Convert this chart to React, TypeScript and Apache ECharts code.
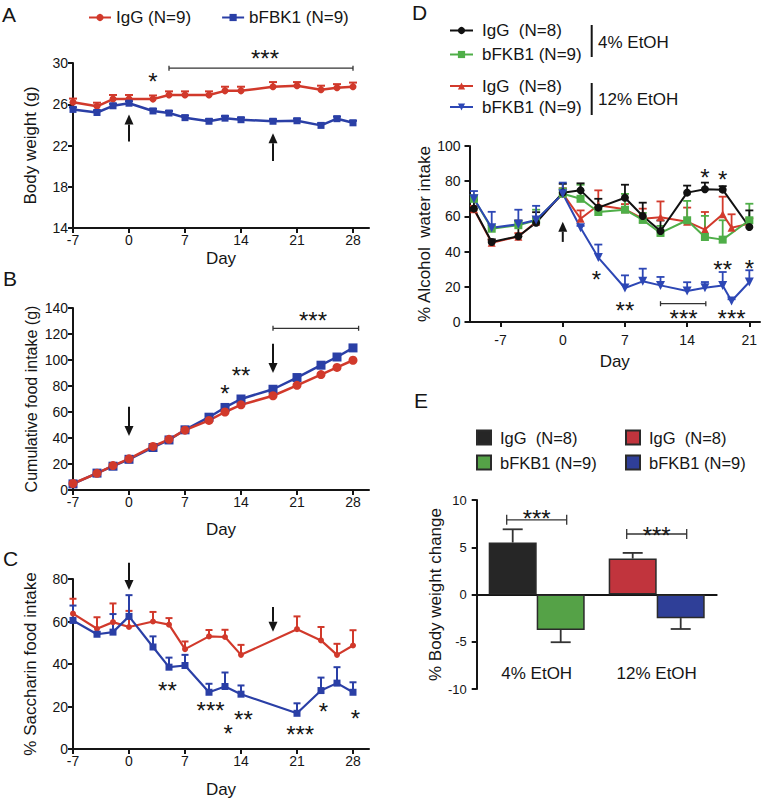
import React, { useEffect, useRef } from "react";
import * as echarts from "echarts";

const FONT = '"Liberation Sans", Arial, Helvetica, sans-serif';
const INK = "#151515";

// ---------- colours ----------
const RED = "#d1392b";
const BLUE = "#2a3fa6";
const D_BLACK = "#111111";
const D_GREEN = "#4fae48";
const D_RED = "#d23a2c";
const D_BLUE = "#2d47b5";
const E_BLACK = "#262626";
const E_GREEN = "#55a247";
const E_RED = "#c1343d";
const E_BLUE = "#2f3f98";

// ---------- series names ----------
const NAME_IGG = "IgG (N=9)";
const NAME_FBK = "bFBK1 (N=9)";

// ---------- Panel A: body weight ----------
const daysA = [-7, -4, -2, 0, 3, 5, 7, 10, 12, 14, 18, 21, 24, 26, 28];
const weightIgG = [26.2, 25.8, 26.5, 26.5, 26.5, 26.9, 26.9, 26.9, 27.3, 27.3, 27.7, 27.8, 27.4, 27.6, 27.7];
const weightIgGErr = [0.35, 0.35, 0.4, 0.4, 0.35, 0.35, 0.35, 0.35, 0.4, 0.4, 0.45, 0.35, 0.4, 0.35, 0.4];
const weightFBK = [25.5, 25.2, 25.85, 26.1, 25.35, 25.15, 24.7, 24.35, 24.65, 24.5, 24.35, 24.4, 23.95, 24.6, 24.2];
const weightFBKErr = [0.2, 0.2, 0.2, 0.2, 0.2, 0.2, 0.2, 0.2, 0.2, 0.2, 0.2, 0.2, 0.2, 0.2, 0.2];
const weightTicks = [14, 18, 22, 26, 30];
const arrowsA = [[0, 22.4, 25.0], [18, 20.5, 23.2]]; // [day, tail, tip]
const starsA: [number, number, string][] = [[3, 28.8, "*"], [17, 31.0, "***"]];
const bracketsA = [[5, 28, 29.5]];

// ---------- Panel B: cumulative food intake ----------
const daysB = [-7, -4, -2, 0, 3, 5, 7, 10, 12, 14, 18, 21, 24, 26, 28];
const foodIgG = [5, 12.8, 18.8, 24, 33.5, 39, 46, 53.5, 60, 65.5, 72.5, 80.5, 88.8, 94.3, 99.8];
const foodFBK = [4.7, 13, 18.3, 23.6, 32.7, 38.5, 46.3, 56, 63.5, 70, 77.5, 86.5, 96, 102.3, 109.3];
const foodTicks = [0, 20, 40, 60, 80, 100, 120, 140];
const arrowsB = [[0, 64, 41.5], [18, 112.5, 90]];
const starsB: [number, number, string][] = [[12, 78.5, "*"], [14, 92.8, "**"], [23, 135, "***"]];
const bracketsB = [[18, 28.7, 124.4]];

// ---------- Panel C: saccharin intake ----------
const daysC = [-7, -4, -2, 0, 3, 5, 7, 10, 12, 14, 21, 24, 26, 28];
const sacchIgG = [63.7, 56.6, 59.7, 57.4, 60, 58.5, 47, 53, 52.7, 44.3, 56.4, 51.1, 44.3, 48.7];
const sacchIgGErr = [7, 5.4, 8.8, 7.6, 4.5, 3.1, 3.6, 3, 3.4, 4.7, 6, 6.3, 5.2, 7.2];
const sacchFBK = [60.5, 54, 55, 62.4, 48, 38.5, 39.3, 26.7, 29.4, 25.8, 16.8, 27.5, 31, 26.7];
const sacchFBKErr = [7, 1, 8.5, 10, 5, 4.5, 5, 4, 6.6, 4.1, 4.7, 6.1, 7.5, 4.7];
const sacchTicks = [0, 20, 40, 60, 80];
const arrowsC = [[0, 87.7, 74.8], [18, 66.8, 55.2]];
const starsC: [number, number, string][] = [
  [4.8, 30.4, "**"], [10.2, 20.7, "***"], [14.3, 16.5, "**"], [12.4, 10.0, "*"],
  [21.4, 9.7, "***"], [24.3, 20.2, "*"], [28.3, 17.1, "*"],
];

const dayTicksABC = [-7, 0, 7, 14, 21, 28];

// ---------- Panel D: alcohol intake ----------
const daysD = [-10, -8, -5, -3, 0, 2, 4, 7, 9, 11, 14, 16, 18, 19, 21];
const etohIgG4 = [64.4, 45.5, 48.7, 56.4, 73.5, 74.8, 65, 70.6, 60.2, 51.7, 73.5, 75.4, 75.2, null, 54];
const etohIgG4Err = [5, 1.5, 9, 6, 5, 4, 5, 7.4, 7.6, 6, 4, 3.8, 2, null, 9.4];
const etohFKB4 = [70, 53, 55, 57.8, 72.9, 70, 62.5, 63.8, 58, 50.6, 57.8, 48.3, 46.8, null, 57.8];
const etohFKB4Err = [2, 2, 2, 6, 3, 8, 3, 9, 4, 4, 11, 12, 11, null, 9.4];
const etohIgG12 = [64, 45, 48.5, 57, 73, 58.7, 66.3, 64, 58.7, 59.5, 57, 52.5, 61.2, 53.6, 55.9];
const etohIgG12Err = [2, 1.5, 2, 2, 3, 4.7, 8.5, 3, 5.7, 9, 8, 10, 10, 7.6, 3];
const etohFKB12 = [70, 53.6, 55.5, 58, 72.9, 53.6, 36.6, 19.3, 23.1, 20.8, 17.6, 19.5, 20.8, 11.9, 22.7];
const etohFKB12Err = [4.4, 9, 8.3, 8, 6.3, 1, 7.4, 7.2, 7.2, 4.8, 5, 3.2, 7.6, 1, 6.7];
const dayTicksD = [-7, 0, 7, 14, 21];
const etohTicks = [0, 20, 40, 60, 80, 100];
const arrowsD = [[0, 45.5, 57]];
const starsD: [number, number, string][] = [
  [16, 85.2, "*"], [18, 84.3, "*"], [3.8, 27.5, "*"], [7, 10, "**"],
  [18, 33.2, "**"], [21, 33.5, "*"], [13.6, 5.0, "***"], [19, 5.0, "***"],
];
const bracketsD = [[11, 16.1, 10.4]];

// ---------- Panel E: body weight change ----------
const eCategories = ["4% EtOH", "12% EtOH"];
const eIgG = [5.5, 3.8];
const eIgGErr = [1.4, 0.6];
const eFKB = [-3.75, -2.5];
const eFKBErr = [1.3, 1.15];
const eTicks = [-10, -5, 0, 5, 10];
const bracketsE = [[0, 7.9], [1, 6.4]];
const starsE: [number, number, string][] = [[0, 8.65, "***"], [1, 6.9, "***"]];

const legendNames: Record<string, string> = {
  D_IgG4: "IgG  (N=8)",
  D_FKB4: "bFKB1 (N=9)",
  D_IgG12: "IgG  (N=8)",
  D_FKB12: "bFKB1 (N=9)",
  E_IgG4: "IgG  (N=8)",
  E_FKB4: "bFKB1 (N=9)",
  E_IgG12: "IgG  (N=8)",
  E_FKB12: "bFKB1 (N=9)",
};

const STAR_FS = 24;

function lineSeries(idx: number, name: string, xs: number[], ys: (number | null)[], color: string, symbol: string, size: number, lw: number, rotate = 0) {
  const data: number[][] = [];
  xs.forEach((x, i) => { if (ys[i] != null) data.push([x, ys[i] as number]); });
  return {
    type: "line", name, xAxisIndex: idx, yAxisIndex: idx, data,
    symbol, symbolSize: size, symbolRotate: rotate, showSymbol: true, clip: false,
    lineStyle: { color, width: lw }, itemStyle: { color }, z: 3, silent: true,
  };
}

function errorSeries(idx: number, xs: number[], ms: (number | null)[], es: (number | null)[], color: string, cap: number, lw: number) {
  const data: number[][] = [];
  xs.forEach((x, i) => { if (ms[i] != null && es[i] != null) data.push([x, ms[i] as number, es[i] as number]); });
  return {
    type: "custom", xAxisIndex: idx, yAxisIndex: idx, z: 2, silent: true, clip: false, data,
    renderItem: (_p: any, api: any) => {
      const x = api.value(0), m = api.value(1), e = api.value(2);
      const a = api.coord([x, m]);
      const b = api.coord([x, m + e]);
      return {
        type: "group", children: [
          { type: "line", shape: { x1: a[0], y1: a[1], x2: b[0], y2: b[1] }, style: { stroke: color, lineWidth: lw } },
          { type: "line", shape: { x1: b[0] - cap, y1: b[1], x2: b[0] + cap, y2: b[1] }, style: { stroke: color, lineWidth: lw } },
        ],
      };
    },
  };
}

function arrowSeries(idx: number, arrows: number[][]) {
  return {
    type: "custom", xAxisIndex: idx, yAxisIndex: idx, z: 6, silent: true, clip: false, data: arrows,
    renderItem: (_p: any, api: any) => {
      const a = api.coord([api.value(0), api.value(1)]);
      const b = api.coord([api.value(0), api.value(2)]);
      const dir = b[1] > a[1] ? 1 : -1;
      const hl = 10, hw = 4.5;
      const base = b[1] - dir * hl;
      return {
        type: "group", children: [
          { type: "line", shape: { x1: a[0], y1: a[1], x2: b[0], y2: base }, style: { stroke: INK, lineWidth: 2 } },
          { type: "polygon", shape: { points: [[b[0], b[1]], [b[0] - hw, base], [b[0] + hw, base]] }, style: { fill: INK } },
        ],
      };
    },
  };
}

function starSeries(idx: number, stars: [number, number, string][], fs: number) {
  return {
    type: "custom", xAxisIndex: idx, yAxisIndex: idx, z: 6, silent: true, clip: false,
    data: stars.map((s) => [s[0], s[1]]),
    renderItem: (p: any, api: any) => {
      const c = api.coord([api.value(0), api.value(1)]);
      return {
        type: "text", x: c[0], y: c[1] + fs * 0.24,
        style: {
          text: stars[p.dataIndex][2], fontSize: fs, fontFamily: FONT, fill: INK,
          align: "center", verticalAlign: "middle", textAlign: "center", textVerticalAlign: "middle",
        },
      };
    },
  };
}

function bracketSeries(idx: number, brs: number[][], th: number) {
  return {
    type: "custom", xAxisIndex: idx, yAxisIndex: idx, z: 6, silent: true, clip: false, data: brs,
    renderItem: (_p: any, api: any) => {
      const a = api.coord([api.value(0), api.value(2)]);
      const b = api.coord([api.value(1), api.value(2)]);
      const st = { stroke: "#333", lineWidth: 1.3 };
      return {
        type: "group", children: [
          { type: "line", shape: { x1: a[0], y1: a[1], x2: b[0], y2: b[1] }, style: st },
          { type: "line", shape: { x1: a[0], y1: a[1] - th, x2: a[0], y2: a[1] + th }, style: st },
          { type: "line", shape: { x1: b[0], y1: b[1] - th, x2: b[0], y2: b[1] + th }, style: st },
        ],
      };
    },
  };
}

function valueAxis(gi: number, min: number, max: number, ticks: number[], extra: any = {}) {
  return {
    type: "value", gridIndex: gi, min, max,
    axisLine: { show: true, onZero: false, lineStyle: { color: INK, width: 2 } },
    axisTick: { show: true, length: 5, lineStyle: { color: INK, width: 2 }, customValues: ticks },
    axisLabel: { color: INK, fontSize: 14, fontFamily: FONT, margin: 5, customValues: ticks },
    splitLine: { show: false },
    nameTextStyle: { color: INK, fontSize: 17, fontFamily: FONT },
    nameLocation: "middle",
    ...extra,
  };
}

function buildOption() {
  const legendText = { fontSize: 17, fontFamily: FONT, color: INK };
  const formatter = (n: string) => legendNames[n] ?? n;

  const eErrData = [
    ...eIgG.map((v, i) => [i, v, eIgGErr[i], -1]),
    ...eFKB.map((v, i) => [i, v, -eFKBErr[i], 1]),
  ];

  const eBar = (name: string, data: any[], color: string, stack: string) => ({
    type: "bar", name, xAxisIndex: 4, yAxisIndex: 4, data, stack,
    barWidth: 48, barGap: "0%", silent: true,
    itemStyle: { color, borderColor: "#2a2a2a", borderWidth: 1.5 }, z: 2,
  });

  return {
    animation: false,
    backgroundColor: "#ffffff",
    textStyle: { fontFamily: FONT },
    grid: [
      { left: 73, top: 63, width: 296, height: 165 },
      { left: 73, top: 308, width: 296, height: 182 },
      { left: 73, top: 579, width: 296, height: 170 },
      { left: 469.5, top: 146, width: 290.5, height: 176 },
      { left: 476.7, top: 500, width: 240, height: 189 },
    ],
    xAxis: [
      valueAxis(0, -7, 30, dayTicksABC, { name: "Day", nameGap: 22 }),
      valueAxis(1, -7, 30, dayTicksABC, { name: "Day", nameGap: 31 }),
      valueAxis(2, -7, 30, dayTicksABC, { name: "Day", nameGap: 32 }),
      valueAxis(3, -10.5, 22.2, dayTicksD, { name: "Day", nameGap: 31, axisLabel: { color: INK, fontSize: 14, fontFamily: FONT, margin: 11, customValues: dayTicksD } }),
      {
        type: "category", gridIndex: 4, data: eCategories,
        axisLine: { show: true, onZero: true, lineStyle: { color: INK, width: 2 } },
        axisTick: { show: false },
        axisLabel: { color: INK, fontSize: 17, fontFamily: FONT, margin: -24 },
      },
    ],
    yAxis: [
      valueAxis(0, 14, 30, weightTicks, { name: "Body weight (g)", nameGap: 34 }),
      valueAxis(1, 0, 140, foodTicks, { name: "Cumulative food intake (g)", nameGap: 34, nameTextStyle: { color: INK, fontSize: 16, fontFamily: FONT } }),
      valueAxis(2, 0, 80, sacchTicks, { name: "% Saccharin food intake", nameGap: 34 }),
      valueAxis(3, 0, 100, etohTicks, { name: "% Alcohol  water intake", nameGap: 36, axisLabel: { color: INK, fontSize: 14, fontFamily: FONT, margin: 9, customValues: etohTicks } }),
      valueAxis(4, -10, 10, eTicks, { name: "% Body weight change", nameGap: 32, axisLabel: { color: INK, fontSize: 13, fontFamily: FONT, margin: 10, customValues: eTicks } }),
    ],
    legend: [
      {
        data: [NAME_IGG, NAME_FBK], left: 88, top: 9, orient: "horizontal", padding: 0,
        itemWidth: 22, itemHeight: 9, itemGap: 30, textStyle: legendText, selectedMode: false,
      },
      {
        data: ["D_IgG4", "D_FKB4"], left: 449, top: 22, orient: "vertical", padding: 0,
        itemWidth: 23, itemHeight: 9, itemGap: 7, formatter, textStyle: { ...legendText, padding: [0, 0, 0, 4] }, selectedMode: false,
      },
      {
        data: ["D_IgG12", "D_FKB12"], left: 449, top: 77.5, orient: "vertical", padding: 0,
        itemWidth: 23, itemHeight: 9, itemGap: 4, formatter, textStyle: { ...legendText, padding: [0, 0, 0, 4] }, selectedMode: false,
      },
      {
        data: ["E_IgG4", "E_FKB4"], left: 476, top: 429, orient: "vertical", icon: "rect", padding: 0,
        itemWidth: 14, itemHeight: 14, itemGap: 8, formatter, textStyle: { ...legendText, fontSize: 16.5, padding: [0, 0, 0, 4] }, selectedMode: false,
      },
      {
        data: ["E_IgG12", "E_FKB12"], left: 625, top: 429, orient: "vertical", icon: "rect", padding: 0,
        itemWidth: 14, itemHeight: 14, itemGap: 8, formatter, textStyle: { ...legendText, fontSize: 16.5, padding: [0, 0, 0, 4] }, selectedMode: false,
      },
    ],
    graphic: [
      { type: "text", left: 2, top: 4, style: { text: "A", fontSize: 21, fontFamily: FONT, fill: INK } },
      { type: "text", left: 3, top: 268, style: { text: "B", fontSize: 21, fontFamily: FONT, fill: INK } },
      { type: "text", left: 3, top: 548, style: { text: "C", fontSize: 21, fontFamily: FONT, fill: INK } },
      { type: "text", left: 412, top: 2, style: { text: "D", fontSize: 21, fontFamily: FONT, fill: INK } },
      { type: "text", left: 414, top: 390, style: { text: "E", fontSize: 21, fontFamily: FONT, fill: INK } },
      { type: "line", shape: { x1: 591.7, y1: 25, x2: 591.7, y2: 57 }, style: { stroke: INK, lineWidth: 2 } },
      { type: "line", shape: { x1: 591.7, y1: 83, x2: 591.7, y2: 115 }, style: { stroke: INK, lineWidth: 2 } },
      { type: "text", left: 598, top: 34, style: { text: "4% EtOH", fontSize: 17, fontFamily: FONT, fill: INK } },
      { type: "text", left: 598, top: 91, style: { text: "12% EtOH", fontSize: 17, fontFamily: FONT, fill: INK } },
    ],
    series: [
      // A
      errorSeries(0, daysA, weightIgG, weightIgGErr, RED, 4, 2),
      errorSeries(0, daysA, weightFBK, weightFBKErr, BLUE, 4, 2),
      lineSeries(0, NAME_IGG, daysA, weightIgG, RED, "circle", 7, 2.5),
      lineSeries(0, NAME_FBK, daysA, weightFBK, BLUE, "rect", 7, 2.5),
      arrowSeries(0, arrowsA),
      starSeries(0, starsA, STAR_FS),
      bracketSeries(0, bracketsA, 2.5),
      // B
      lineSeries(1, NAME_FBK, daysB, foodFBK, BLUE, "rect", 9, 2.5),
      lineSeries(1, NAME_IGG, daysB, foodIgG, RED, "circle", 9, 2.5),
      arrowSeries(1, arrowsB),
      starSeries(1, starsB, STAR_FS),
      bracketSeries(1, bracketsB, 2.5),
      // C
      errorSeries(2, daysC, sacchIgG, sacchIgGErr, RED, 3.5, 2),
      errorSeries(2, daysC, sacchFBK, sacchFBKErr, BLUE, 3.5, 2),
      lineSeries(2, NAME_IGG, daysC, sacchIgG, RED, "circle", 6, 2.2),
      lineSeries(2, NAME_FBK, daysC, sacchFBK, BLUE, "rect", 7, 2.2),
      arrowSeries(2, arrowsC),
      starSeries(2, starsC, STAR_FS),
      // D
      errorSeries(3, daysD, etohIgG12, etohIgG12Err, D_RED, 4, 1.8),
      errorSeries(3, daysD, etohFKB4, etohFKB4Err, D_GREEN, 4, 1.8),
      errorSeries(3, daysD, etohIgG4, etohIgG4Err, D_BLACK, 4, 1.8),
      errorSeries(3, daysD, etohFKB12, etohFKB12Err, D_BLUE, 4, 1.8),
      lineSeries(3, "D_IgG12", daysD, etohIgG12, D_RED, "triangle", 8, 2),
      lineSeries(3, "D_FKB4", daysD, etohFKB4, D_GREEN, "rect", 8, 2),
      lineSeries(3, "D_IgG4", daysD, etohIgG4, D_BLACK, "circle", 8, 2),
      lineSeries(3, "D_FKB12", daysD, etohFKB12, D_BLUE, "triangle", 9, 2, 180),
      arrowSeries(3, arrowsD),
      starSeries(3, starsD, STAR_FS),
      bracketSeries(3, bracketsD, 2.5),
      // E
      eBar("E_IgG4", [eIgG[0], "-"], E_BLACK, "igg"),
      eBar("E_IgG12", ["-", eIgG[1]], E_RED, "igg"),
      eBar("E_FKB4", [eFKB[0], "-"], E_GREEN, "fkb"),
      eBar("E_FKB12", ["-", eFKB[1]], E_BLUE, "fkb"),
      {
        type: "custom", xAxisIndex: 4, yAxisIndex: 4, z: 1, silent: true, clip: false, data: eErrData,
        renderItem: (_p: any, api: any) => {
          const band = api.size([1, 0])[0];
          const off = api.value(3) * band * 0.2;
          const a = api.coord([api.value(0), api.value(1)]);
          const b = api.coord([api.value(0), api.value(1) + api.value(2)]);
          const x = a[0] + off;
          const st = { stroke: "#333", lineWidth: 1.8 };
          return {
            type: "group", children: [
              { type: "line", shape: { x1: x, y1: a[1], x2: x, y2: b[1] }, style: st },
              { type: "line", shape: { x1: x - 10, y1: b[1], x2: x + 10, y2: b[1] }, style: st },
            ],
          };
        },
      },
      {
        type: "custom", xAxisIndex: 4, yAxisIndex: 4, z: 6, silent: true, clip: false, data: bracketsE,
        renderItem: (_p: any, api: any) => {
          const band = api.size([1, 0])[0];
          const c = api.coord([api.value(0), api.value(1)]);
          const h = band * 0.25;
          const st = { stroke: "#333", lineWidth: 1.3 };
          return {
            type: "group", children: [
              { type: "line", shape: { x1: c[0] - h, y1: c[1], x2: c[0] + h, y2: c[1] }, style: st },
              { type: "line", shape: { x1: c[0] - h, y1: c[1] - 5, x2: c[0] - h, y2: c[1] + 5 }, style: st },
              { type: "line", shape: { x1: c[0] + h, y1: c[1] - 5, x2: c[0] + h, y2: c[1] + 5 }, style: st },
            ],
          };
        },
      },
      starSeries(4, starsE, STAR_FS),
    ],
  };
}

export default function App() {
  const ref = useRef<HTMLDivElement>(null);
  useEffect(() => {
    if (!ref.current) return;
    const chart = echarts.init(ref.current, undefined, { renderer: "svg" });
    chart.setOption(buildOption() as any);
    return () => chart.dispose();
  }, []);
  return (
    <div
      ref={ref}
      style={{ position: "absolute", left: 0, top: 0, width: 761, height: 800, background: "#fff" }}
    />
  );
}
